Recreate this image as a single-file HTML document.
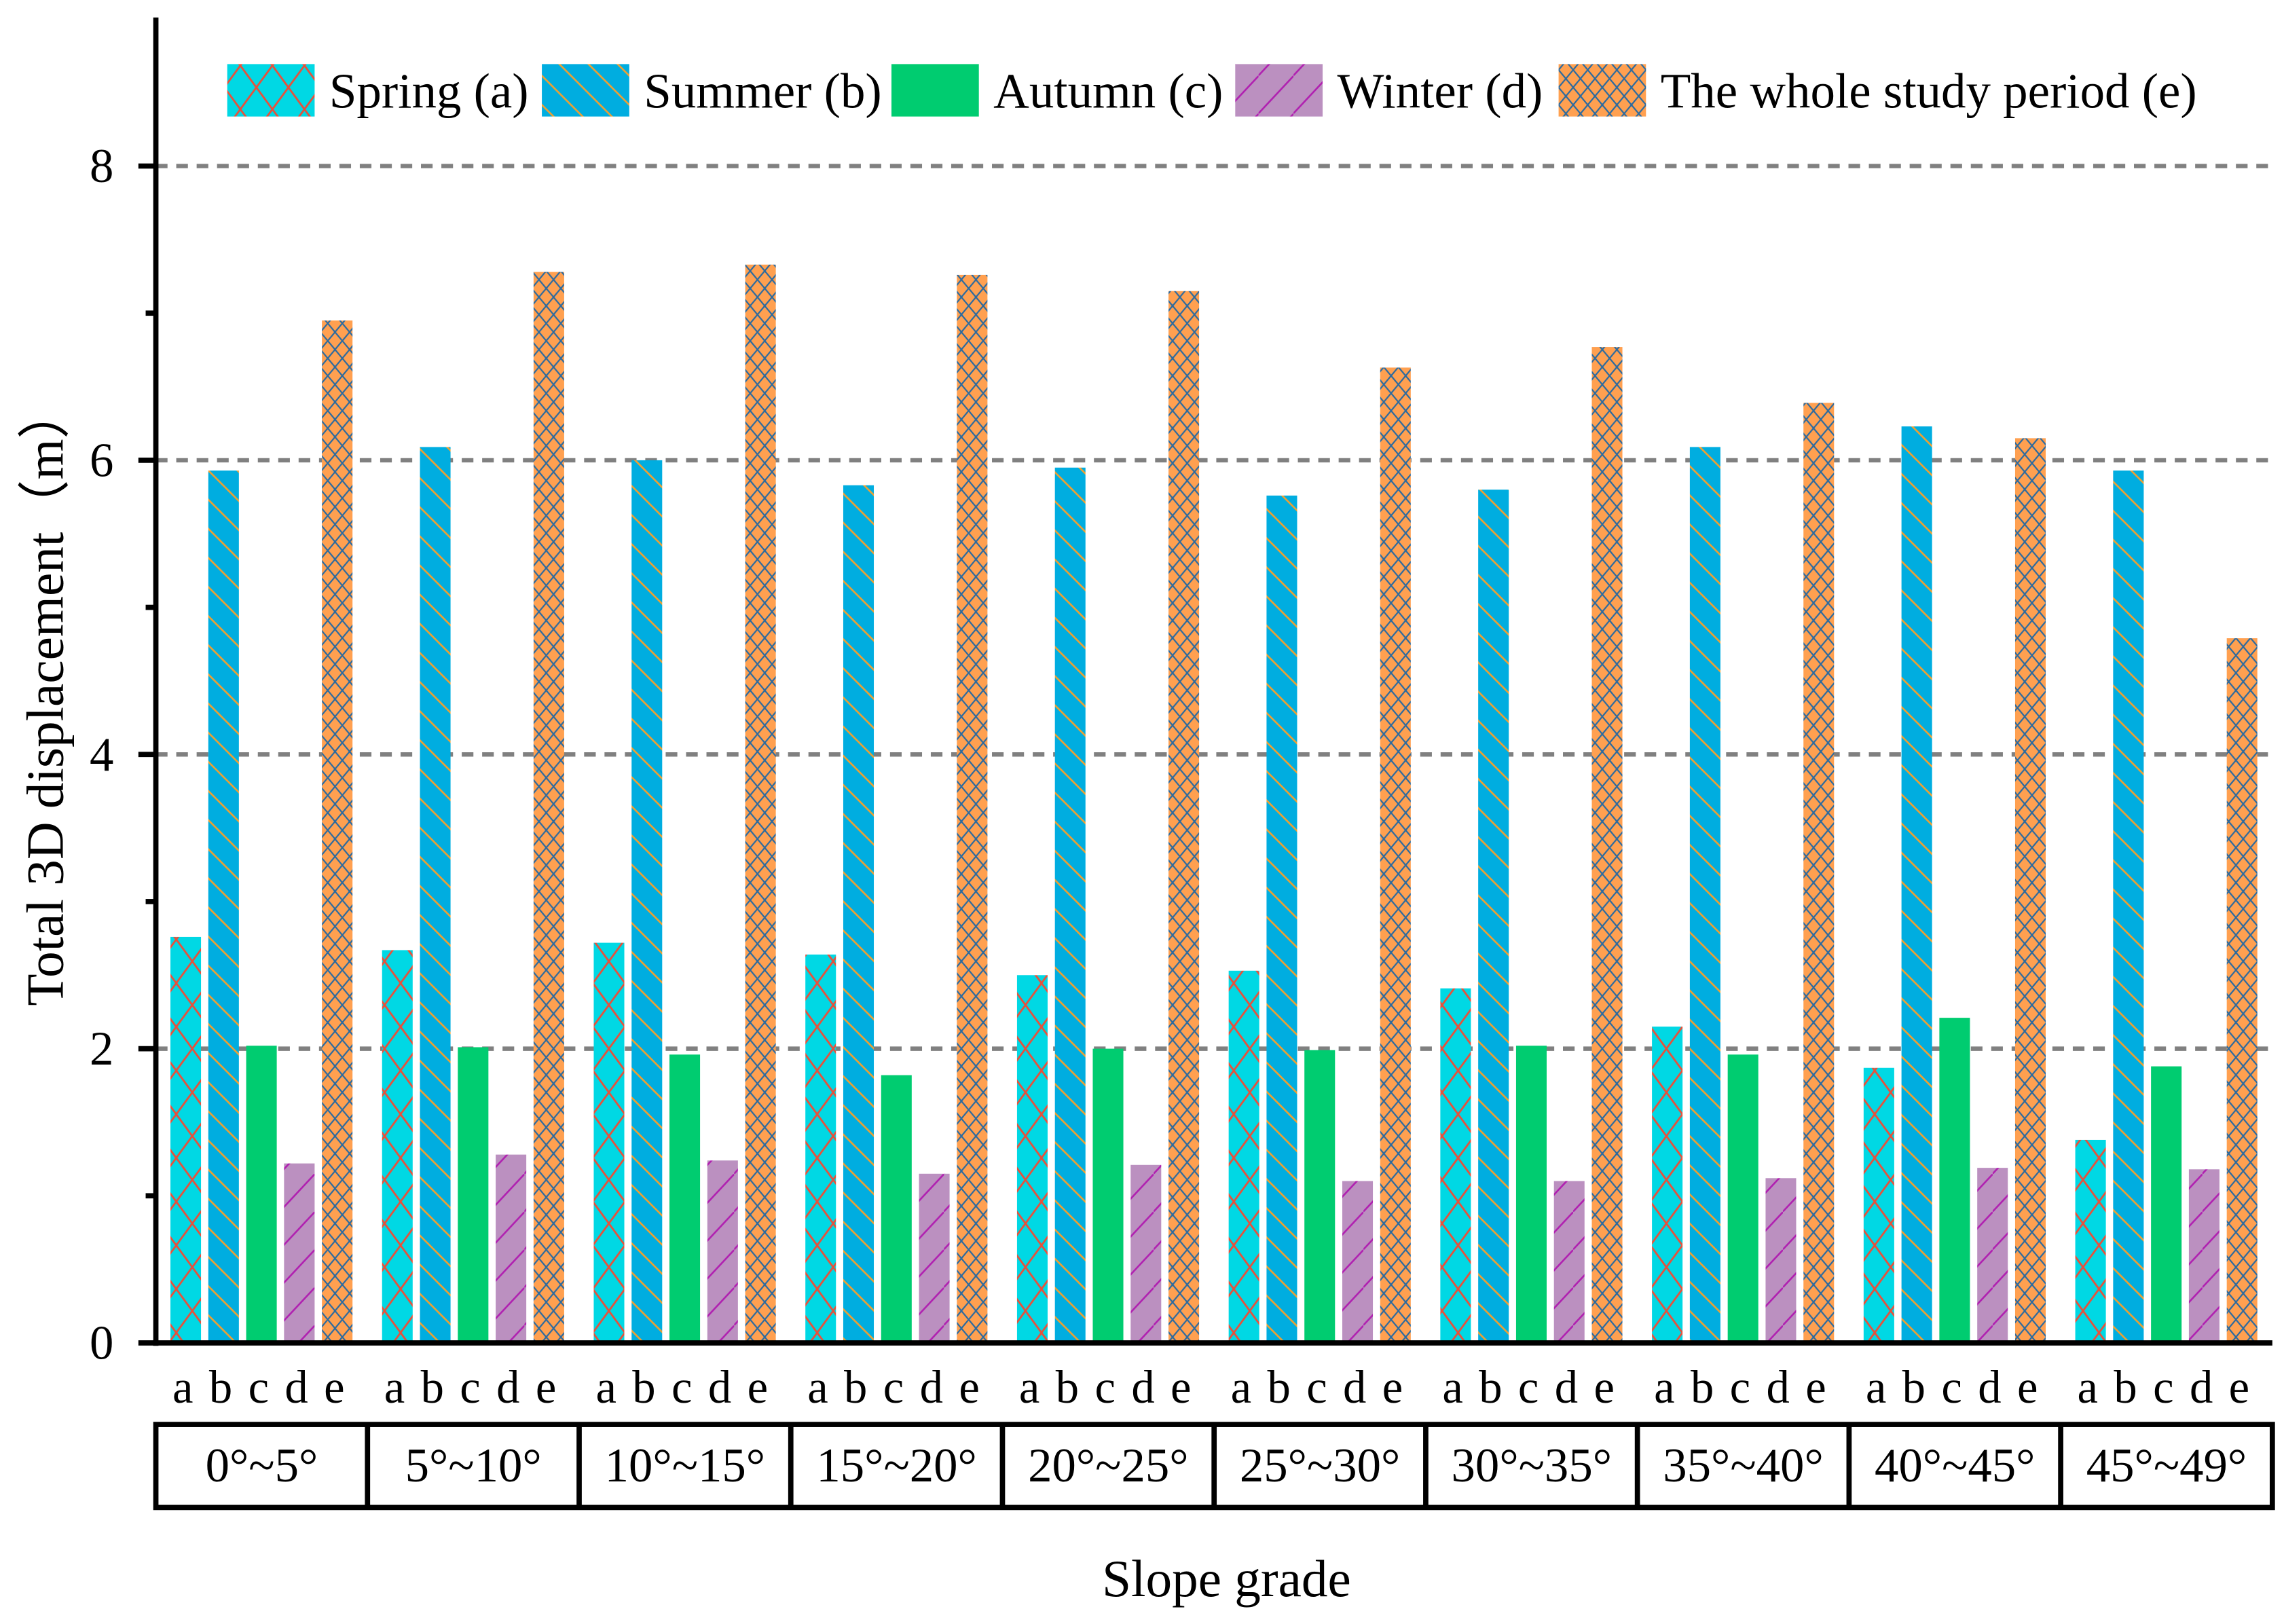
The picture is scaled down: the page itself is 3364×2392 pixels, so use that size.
<!DOCTYPE html>
<html><head><meta charset="utf-8"><style>
html,body{margin:0;padding:0;background:#fff}
svg{display:block}
text{font-family:"Liberation Serif",serif;fill:#000}
</style></head><body>
<svg id="chart" width="3364" height="2392" viewBox="0 0 1568 1115" preserveAspectRatio="none" xmlns="http://www.w3.org/2000/svg">
<defs>
<pattern id="pa" patternUnits="userSpaceOnUse" width="22" height="30"><rect width="22" height="30" fill="#00d8e4"/><path d="M0,0 L22,30 M22,0 L0,30" stroke="#e8503a" stroke-width="1.3"/></pattern>
<pattern id="pb" patternUnits="userSpaceOnUse" width="20" height="20"><rect width="20" height="20" fill="#00ade0"/><path d="M-5,-5 L25,25 M-5,15 L5,25 M15,-5 L25,5" stroke="#f0a030" stroke-width="1.2"/></pattern>
<pattern id="pd" patternUnits="userSpaceOnUse" width="24" height="26"><rect width="24" height="26" fill="#bb90c0"/><path d="M-2,28 L26,-2" stroke="#b020b0" stroke-width="1.2"/></pattern>
<pattern id="pe" patternUnits="userSpaceOnUse" width="10" height="12"><rect width="10" height="12" fill="#ffa050"/><path d="M0,0 L10,12 M10,0 L0,12" stroke="#2a6aa0" stroke-width="1"/></pattern>
</defs>
<g id="grid"></g>
<g id="bars"></g>
<g id="axes"></g>
<g id="legend"></g>
</svg>
<script>
const categories = ["0°~5°","5°~10°","10°~15°","15°~20°","20°~25°","25°~30°","30°~35°","35°~40°","40°~45°","45°~49°"];
const seriesLetters = ["a","b","c","d","e"];
const seriesNames = ["Spring (a)","Summer (b)","Autumn (c)","Winter (d)","The whole study period (e)"];
const springVals = [2.76,2.67,2.72,2.64,2.50,2.53,2.41,2.15,1.87,1.38];
const summerVals = [5.93,6.09,6.00,5.83,5.95,5.76,5.80,6.09,6.23,5.93];
const autumnVals = [2.02,2.01,1.96,1.82,2.00,1.99,2.02,1.96,2.21,1.88];
const winterVals = [1.22,1.28,1.24,1.15,1.21,1.10,1.10,1.12,1.19,1.18];
const wholeVals = [6.95,7.28,7.33,7.26,7.15,6.63,6.77,6.39,6.15,4.79];
const yTicks = [0,2,4,6,8];
const yMinor = [1,3,5,7];

const NS="http://www.w3.org/2000/svg";
const X0=107,X1=1560,Y0=922,YT=12,PX=101;
const gw=(X1-X0)/categories.length;
const y=v=>Y0-v*PX;
const fills=["url(#pa)","url(#pb)","#00cc70","url(#pd)","url(#pe)"];
const series=[springVals,summerVals,autumnVals,winterVals,wholeVals];
function mk(tag,attrs,parent,txt){const e=document.createElementNS(NS,tag);for(const k in attrs)e.setAttribute(k,attrs[k]);if(txt!==undefined)e.textContent=txt;parent.appendChild(e);return e;}
const grid=document.getElementById('grid'),bars=document.getElementById('bars'),axes=document.getElementById('axes'),leg=document.getElementById('legend');
yTicks.forEach(t=>{if(t===0)return;const l=mk('line',{x1:X0,x2:X1,y1:y(t),y2:y(t),stroke:'#808080','stroke-width':3,'stroke-dasharray':'8,6'},grid);

});
series.forEach((vals,j)=>{vals.forEach((v,i)=>{const r=mk('rect',{x:X0+gw*i+10+26*j,y:y(v),width:21,height:v*PX,fill:fills[j]},bars);

});});
let a=mk('line',{x1:X0,x2:X0,y1:YT,y2:Y0+2,stroke:'#000','stroke-width':3.6},axes);


a=mk('line',{x1:X0-2,x2:X1,y1:Y0,y2:Y0,stroke:'#000','stroke-width':3.6},axes);


yTicks.forEach(t=>{mk('line',{x1:X0-12,x2:X0,y1:y(t),y2:y(t),stroke:'#000','stroke-width':3.6},axes);
const tx=mk('text',{x:78,y:y(t)+11,'text-anchor':'end','font-size':33},axes,String(t));

});
yMinor.forEach(t=>{mk('line',{x1:X0-7,x2:X0,y1:y(t),y2:y(t),stroke:'#000','stroke-width':3.6},axes);});
let yt=mk('text',{x:0,y:0,'text-anchor':'middle','font-size':36,transform:'translate(43,478) rotate(-90)'},axes,'Total 3D displacement（m）');


categories.forEach((c,i)=>{const gx=X0+gw*i;
seriesLetters.forEach((s,j)=>{const t=mk('text',{x:gx+18.5+26*j,y:963,'text-anchor':'middle','font-size':32},axes,s);

});
const t=mk('text',{x:gx+gw/2,y:1017,'text-anchor':'middle','font-size':33},axes,c);


if(i>0)mk('line',{x1:gx,x2:gx,y1:978,y2:1035,stroke:'#000','stroke-width':3.6},axes);});
const tb=mk('rect',{x:X0,y:978,width:X1-X0,height:57,fill:'none',stroke:'#000','stroke-width':3.6},axes);


const xt=mk('text',{x:842,y:1096,'text-anchor':'middle','font-size':36},axes,'Slope grade');


const lbx=[156,372,612,848,1070];
seriesNames.forEach((n,j)=>{const g=mk('g',{},leg);


mk('rect',{x:lbx[j],y:44,width:60,height:36,fill:fills[j]},g);
mk('text',{x:lbx[j]+70,y:74,'font-size':34},g,n);});
</script>
</body></html>
